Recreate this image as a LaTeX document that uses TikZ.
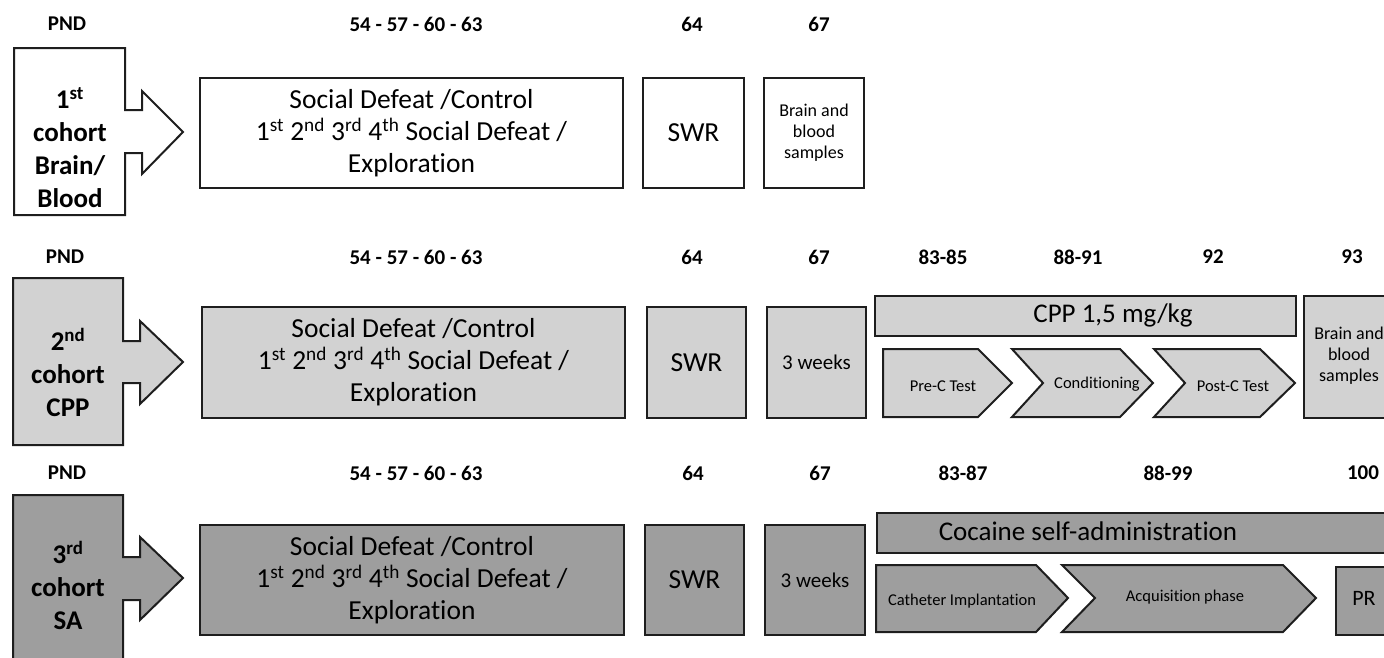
\documentclass[tikz,border=0pt]{standalone}
\usepackage{fontspec}
\setmainfont{Carlito}[Ligatures=NoCommon]
\definecolor{lg}{RGB}{210,210,210}
\definecolor{dg}{RGB}{158,158,158}
\definecolor{ln}{RGB}{30,30,30}
\newcommand\myfs[2]{\fontsize{#1}{#2}\selectfont}
\begin{document}
\begin{tikzpicture}[x=1pt,y=-1pt,
  bx/.style={draw=ln, line width=2pt, anchor=north west, inner sep=0pt, align=center},
  shp/.style={draw=ln, line width=2pt, line join=miter},
  lab/.style={font=\myfs{21}{24}\bfseries, inner sep=0pt},
  coh/.style={font=\myfs{27}{33}\bfseries, align=center, inner sep=0pt},
  big/.style={font=\myfs{27.5}{32}},
  mid/.style={font=\myfs{27.5}{30}},
  sm/.style={font=\myfs{18}{21}},
  chv/.style={font=\myfs{16.5}{20}, inner sep=0pt},
  wk/.style={font=\myfs{21}{24}},
  ttl/.style={font=\myfs{27}{32}, inner sep=0pt}]
\useasboundingbox (0,0) rectangle (1384,657);
\clip (0,0) rectangle (1384,657);

% ---------- Row 1 ----------
\node[lab] (p1) at (67,24) {PND};
\node[lab] (d1a) at (416,24) {54 - 57 - 60 - 63};
\node[lab] (d1b) at (692,24) {64};
\node[lab] (d1c) at (819,24) {67};
\draw[shp, fill=white] (14,48) -- (125,48) -- (125,110) -- (142,110) -- (142,91) -- (183,132)
  -- (142,174) -- (142,153) -- (125,153) -- (125,215) -- (14,215) -- cycle;
\node[coh] (c1) at (70,148) {1\textsuperscript{st}\\cohort\\Brain/\\Blood};
\node[bx, big, fill=white, minimum width=423pt, minimum height=110pt] (sd1) at (199,77)
  {Social Defeat /Control\\1\textsuperscript{st} 2\textsuperscript{nd} 3\textsuperscript{rd} 4\textsuperscript{th} Social Defeat /\\Exploration};
\node[bx, mid, fill=white, minimum width=101pt, minimum height=110pt] (sw1) at (642,77) {SWR};
\node[bx, sm, fill=white, minimum width=100pt, minimum height=110pt] (bb1) at (763,77) {Brain and\\blood\\samples};

% ---------- Row 2 ----------
\node[lab] (p2) at (65,257) {PND};
\node[lab] (d2a) at (416,257) {54 - 57 - 60 - 63};
\node[lab] (d2b) at (692,257) {64};
\node[lab] (d2c) at (819,257) {67};
\node[lab] (d2d) at (943,257) {83-85};
\node[lab] (d2e) at (1078,257) {88-91};
\node[lab] (d2f) at (1213,257) {92};
\node[lab] (d2g) at (1352,257) {93};
\draw[shp, fill=lg] (13,278) -- (123,278) -- (123,341) -- (140,341) -- (140,321) -- (183,362)
  -- (140,404) -- (140,383) -- (123,383) -- (123,445) -- (13,445) -- cycle;
\node[coh] (c2) at (68,372) {2\textsuperscript{nd}\\cohort\\CPP};
\node[bx, big, fill=lg, minimum width=423pt, minimum height=111pt] (sd2) at (201,306)
  {Social Defeat /Control\\1\textsuperscript{st} 2\textsuperscript{nd} 3\textsuperscript{rd} 4\textsuperscript{th} Social Defeat /\\Exploration};
\node[bx, mid, fill=lg, minimum width=99pt, minimum height=111pt] (sw2) at (646,306) {SWR};
\node[bx, wk, fill=lg, minimum width=99pt, minimum height=111pt] (wk2) at (766,306) {3 weeks};
\node[bx, fill=lg, minimum width=421pt, minimum height=40pt] (cpp) at (874,295) {};
\node[ttl] (cppt) at (1113,315) {CPP 1,5 mg/kg};
\draw[shp, fill=lg] (883,349) -- (978,349) -- (1012,383) -- (978,417) -- (883,417) -- cycle;
\node[chv] (prec) at (943,386) {Pre-C Test};
\draw[shp, fill=lg] (1012,349) -- (1120,349) -- (1153,383) -- (1120,417) -- (1012,417) -- (1043,383) -- cycle;
\node[chv] (cond) at (1097,384) {Conditioning};
\draw[shp, fill=lg] (1154,349) -- (1260,349) -- (1295,383) -- (1260,417) -- (1154,417) -- (1185,383) -- cycle;
\node[chv] (postc) at (1233,386) {Post-C Test};
\node[bx, fill=lg, minimum width=100pt, minimum height=122pt] (bb2) at (1303,295) {};
\node[sm, align=center, inner sep=0pt] (bb2t) at (1349,356) {Brain and\\blood\\samples};

% ---------- Row 3 ----------
\node[lab] (p3) at (67,473) {PND};
\node[lab] (d3a) at (416,473) {54 - 57 - 60 - 63};
\node[lab] (d3b) at (693,473) {64};
\node[lab] (d3c) at (820,473) {67};
\node[lab] (d3d) at (963,473) {83-87};
\node[lab] (d3e) at (1168,473) {88-99};
\node[lab] (d3f) at (1363,473) {100};
\draw[shp, fill=dg] (13,495) -- (123,495) -- (123,557) -- (140,557) -- (140,537) -- (183,578)
  -- (140,620) -- (140,600) -- (123,600) -- (123,690) -- (13,690) -- cycle;
\node[coh] (c3) at (68,585) {3\textsuperscript{rd}\\cohort\\SA};
\node[bx, big, fill=dg, minimum width=424pt, minimum height=110pt] (sd3) at (199,524)
  {Social Defeat /Control\\1\textsuperscript{st} 2\textsuperscript{nd} 3\textsuperscript{rd} 4\textsuperscript{th} Social Defeat /\\Exploration};
\node[bx, mid, fill=dg, minimum width=99pt, minimum height=110pt] (sw3) at (644,524) {SWR};
\node[bx, wk, fill=dg, minimum width=100pt, minimum height=110pt] (wk3) at (764,524) {3 weeks};
\node[bx, fill=dg, minimum width=540pt, minimum height=40pt] (coc) at (876,512) {};
\node[ttl] (coct) at (1088,531) {Cocaine self-administration};
\draw[shp, fill=dg] (876,565) -- (1036,565) -- (1068,598) -- (1036,632) -- (876,632) -- cycle;
\node[chv] (cath) at (962,601) {Catheter Implantation};
\draw[shp, fill=dg] (1062,565) -- (1283,565) -- (1316,598) -- (1283,632) -- (1062,632) -- (1095,598) -- cycle;
\node[chv] (acq) at (1185,597) {Acquisition phase};
\node[bx, fill=dg, minimum width=80pt, minimum height=68pt] (pr) at (1335,566) {};
\node[font=\myfs{22}{26}, inner sep=0pt] (prt) at (1364,598) {PR};
\end{tikzpicture}
\end{document}
